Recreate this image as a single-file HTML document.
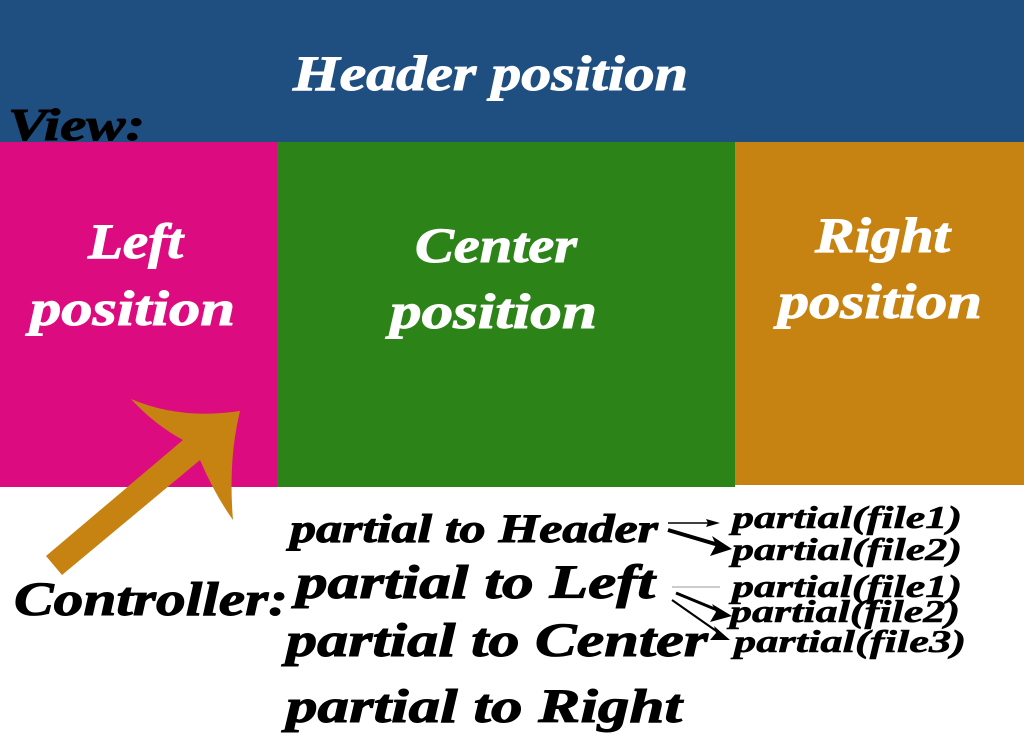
<!DOCTYPE html>
<html><head><meta charset="utf-8"><style>
html,body{margin:0;padding:0;background:#fff;width:1024px;height:750px;overflow:hidden}
text{font-family:"Liberation Serif",serif;font-weight:bold;font-style:italic}
</style></head><body>
<svg width="1024" height="750" viewBox="0 0 1024 750" xmlns="http://www.w3.org/2000/svg">
<rect x="0" y="0" width="1024" height="142" fill="#1e4f80"/>
<rect x="0" y="142" width="277" height="345" fill="#dc0c80"/>
<rect x="277" y="142" width="458" height="345" fill="#2c8418"/>
<rect x="735" y="142" width="289" height="343" fill="#c78312"/>
<g fill="#fff" stroke="#fff" stroke-width="1" font-size="50">
<text x="293" y="90" textLength="395" lengthAdjust="spacingAndGlyphs">Header position</text>
<text x="88" y="258" textLength="95" lengthAdjust="spacingAndGlyphs">Left</text>
<text x="30" y="325" textLength="205" lengthAdjust="spacingAndGlyphs">position</text>
<text x="415" y="262" textLength="162" lengthAdjust="spacingAndGlyphs">Center</text>
<text x="390" y="328" textLength="207" lengthAdjust="spacingAndGlyphs">position</text>
<text x="815" y="252" textLength="135" lengthAdjust="spacingAndGlyphs">Right</text>
<text x="778" y="318" textLength="204" lengthAdjust="spacingAndGlyphs">position</text>
</g>
<text x="8" y="140" font-size="46" fill="#000" stroke="#000" stroke-width="1" textLength="137" lengthAdjust="spacingAndGlyphs">View:</text>
<path d="M46,556 L62,575 L200,460 Q215,495 233,520 Q228,460 240,411 Q180,420 131,399 Q155,425 183,440 Z" fill="#c78312"/>
<g fill="#000" stroke="#000" stroke-width="1">
<text x="14" y="615" font-size="48" textLength="274" lengthAdjust="spacingAndGlyphs">Controller:</text>
<text x="290" y="542" font-size="40" textLength="368" lengthAdjust="spacingAndGlyphs">partial to Header</text>
<text x="296" y="598" font-size="48" textLength="359" lengthAdjust="spacingAndGlyphs">partial to Left</text>
<text x="286" y="656" font-size="48" textLength="422" lengthAdjust="spacingAndGlyphs">partial to Center</text>
<text x="286" y="722" font-size="48" textLength="396" lengthAdjust="spacingAndGlyphs">partial to Right</text>
<g font-size="32" stroke-width="0.6">
<text x="732" y="528" textLength="230" lengthAdjust="spacingAndGlyphs">partial(file1)</text>
<text x="732" y="560" textLength="230" lengthAdjust="spacingAndGlyphs">partial(file2)</text>
<text x="732" y="597" textLength="230" lengthAdjust="spacingAndGlyphs">partial(file1)</text>
<text x="730" y="622" textLength="230" lengthAdjust="spacingAndGlyphs">partial(file2)</text>
<text x="734" y="652" textLength="232" lengthAdjust="spacingAndGlyphs">partial(file3)</text>
</g>
</g>
<g stroke="#000" fill="none">
<line x1="668" y1="523" x2="712" y2="523" stroke-width="1.5"/>
<line x1="668" y1="530" x2="722" y2="546" stroke-width="4"/>
<line x1="672" y1="587" x2="720" y2="587" stroke-width="1" stroke="#999"/>
<line x1="676" y1="593" x2="722" y2="612" stroke-width="3"/>
<line x1="672" y1="600" x2="722" y2="635" stroke-width="2"/>
</g>
<g fill="#000">
<polygon points="720,523 706,519 708,523 706,527"/>
<polygon points="732,549 712,536 716,545 710,556"/>
<polygon points="732,616 712,604 716,612 710,622"/>
<polygon points="730,640 714,626 716,633 710,640"/>
</g>
</svg>
</body></html>
